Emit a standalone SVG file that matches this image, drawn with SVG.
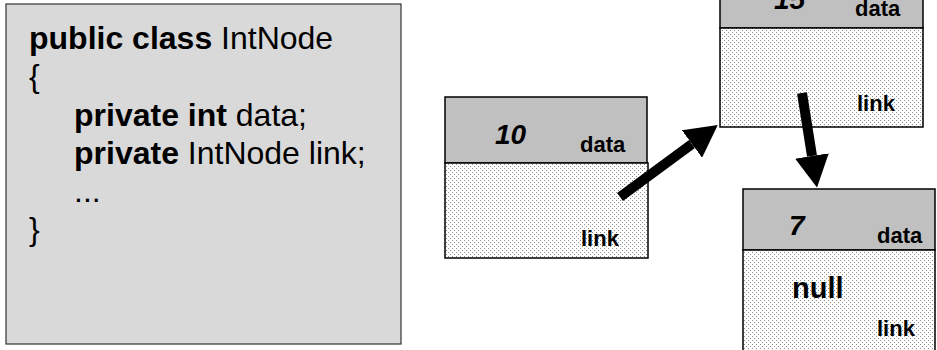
<svg xmlns="http://www.w3.org/2000/svg" width="937" height="350" viewBox="0 0 937 350">
  <style>
    .code { font-family: "Liberation Sans", Arial, sans-serif; font-size: 32px; fill: #000; }
    .kw { font-weight: bold; }
    .hdr { fill: #c0c0c0; stroke: #000; stroke-width: 1.5; }
    .body { fill: url(#stipple); stroke: #000; stroke-width: 1.5; }
    .val { font-family: "Liberation Sans", Arial, sans-serif; font-size: 28px; font-weight: bold; font-style: italic; fill: #000; }
    .lbl { font-family: "Liberation Sans", Arial, sans-serif; font-size: 22px; font-weight: bold; fill: #000; }
    .ptr { stroke: #000; stroke-width: 10; fill: none; marker-end: url(#head); }
  </style>
  <defs>
    <!-- fine dot screen used for the link field -->
    <pattern id="stipple" width="4" height="4" patternUnits="userSpaceOnUse">
      <rect width="4" height="4" fill="#fff"/>
      <rect x="0" y="0" width="1" height="1" fill="#8c8c8c"/>
      <rect x="2" y="2" width="1" height="1" fill="#8c8c8c"/>
    </pattern>
    <!-- solid triangular head, base sits at the end of the shaft -->
    <marker id="head" markerUnits="strokeWidth" viewBox="0 0 32 34" refX="0" refY="17" markerWidth="3.2" markerHeight="3.4" orient="auto">
      <path d="M0,0 L32,17 L0,34 Z" fill="#000"/>
    </marker>
  </defs>

  <!-- class declaration -->
  <g id="code-box">
    <rect x="6" y="4" width="395" height="340" fill="#d9d9d9" stroke="#333" stroke-width="1.2"/>
    <text class="code" x="29" y="49"><tspan class="kw">public class</tspan> IntNode</text>
    <text class="code" x="29" y="87">{</text>
    <text class="code" x="74" y="126"><tspan class="kw">private int</tspan> data;</text>
    <text class="code" x="74" y="164"><tspan class="kw">private</tspan> IntNode link;</text>
    <text class="code" x="74" y="202">...</text>
    <text class="code" x="29" y="240">}</text>
  </g>

  <!-- first node -->
  <g id="node-10">
    <rect class="hdr" x="445" y="97" width="202" height="66"/>
    <rect class="body" x="445" y="163" width="203" height="95"/>
    <text class="val" x="495" y="144">10</text>
    <text class="lbl" x="580" y="152">data</text>
    <text class="lbl" x="581" y="246">link</text>
  </g>

  <!-- second node -->
  <g id="node-15">
    <rect class="hdr" x="720" y="-40" width="203" height="68"/>
    <rect class="body" x="720" y="28" width="203" height="99"/>
    <text class="val" x="774" y="9">15</text>
    <text class="lbl" x="855" y="16">data</text>
    <text class="lbl" x="857" y="111">link</text>
  </g>

  <!-- last node -->
  <g id="node-7">
    <rect class="hdr" x="743" y="189" width="192" height="61"/>
    <rect class="body" x="743" y="250" width="192" height="110"/>
    <text class="val" x="789" y="235">7</text>
    <text class="lbl" x="877" y="243">data</text>
    <text class="lbl" x="792" y="298" style="font-size:29px">null</text>
    <text class="lbl" x="877" y="336">link</text>
  </g>

  <!-- link pointers -->
  <g id="connectors">
    <line class="ptr" x1="620" y1="197" x2="692" y2="144"/>
    <line class="ptr" x1="802" y1="93" x2="812" y2="156"/>
  </g>
</svg>
